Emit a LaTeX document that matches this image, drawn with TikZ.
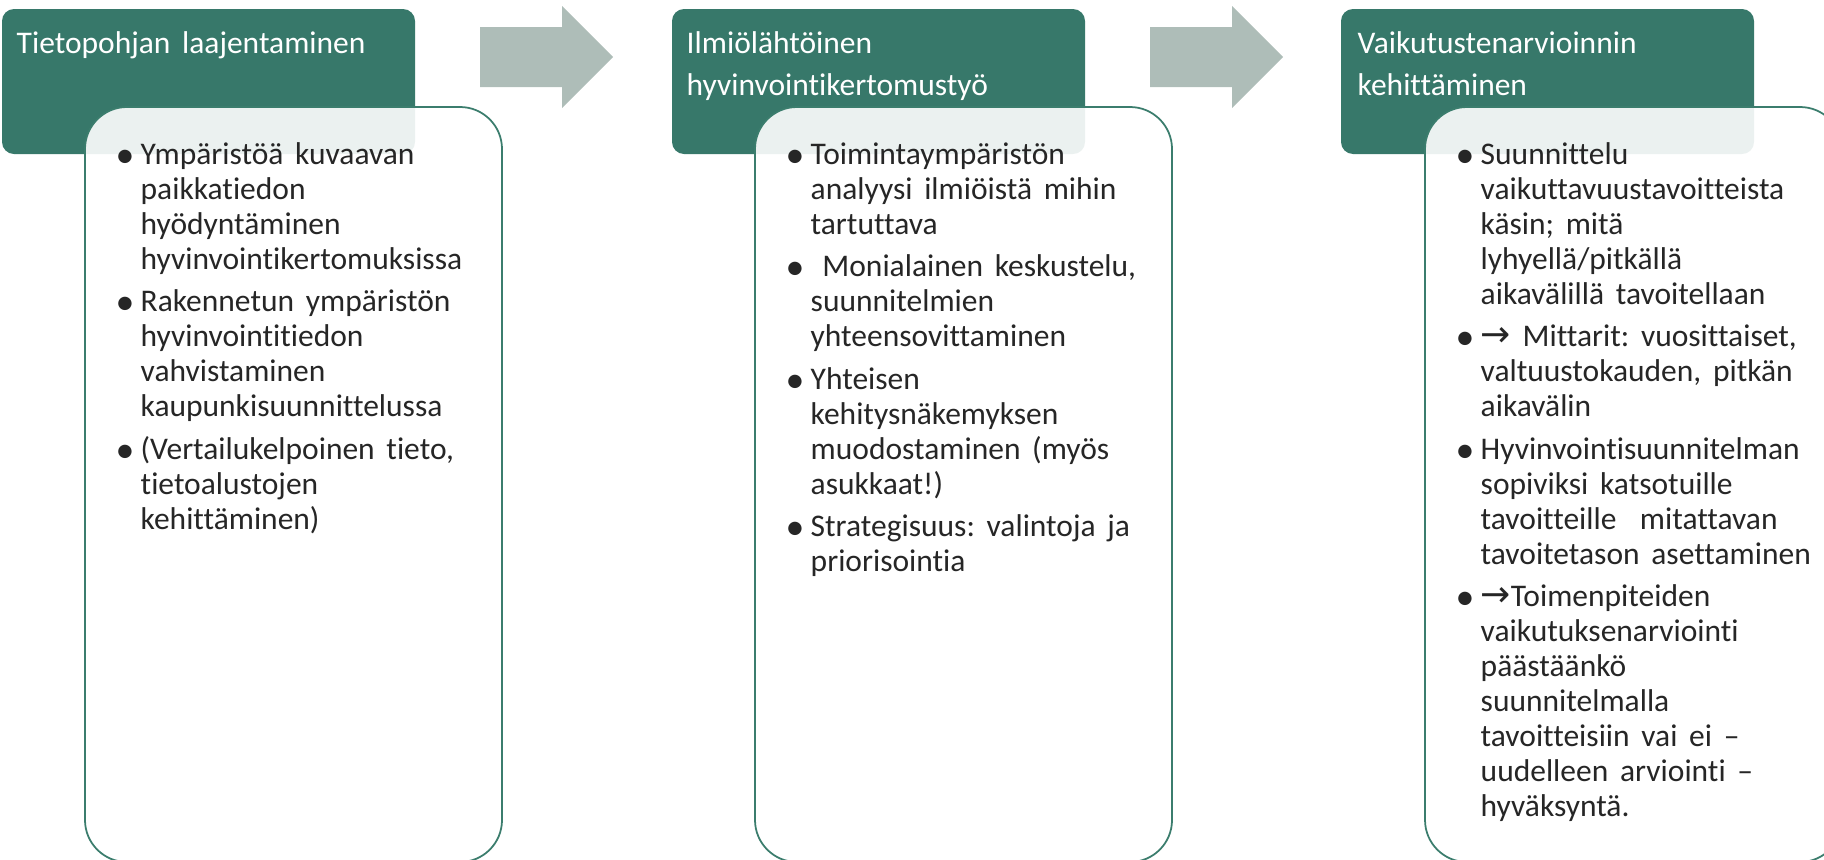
\documentclass[tikz,border=0pt]{standalone}
\usepackage{fontspec}
\setmainfont{Carlito}[Ligatures=NoCommon]
\newfontfamily\arrowfont{DejaVu Sans}

\definecolor{headgreen}{HTML}{37786A}
\definecolor{arrowgray}{HTML}{AEBDB8}
\definecolor{linegreen}{HTML}{3B7D6D}
\definecolor{bodytext}{HTML}{262626}

% one bullet point, hanging indent
\newcommand{\bitem}[1]{\hangindent=2.5mm\hangafter=1\noindent\makebox[2.5mm][l]{\raisebox{-0.3mm}{\scalebox{1.2}{\textbullet}}}#1\par}
\newcommand{\rarr}{{\arrowfont\fontsize{3.6mm}{3.5mm}\selectfont →}}
\newcommand{\headfont}{\fontsize{3.15mm}{3.7mm}\selectfont}
\newcommand{\bodyfont}{\fontsize{3.15mm}{3.5mm}\selectfont\frenchspacing\setlength{\parskip}{0.75mm}}

\begin{document}
\begin{tikzpicture}[x=0.1mm,y=-0.1mm,
  head box/.style={fill=headgreen,rounded corners=1.2mm},
  body box/.style={draw=linegreen,line width=0.5pt,fill=white,fill opacity=0.9,rounded corners=4.2mm},
  flow arrow/.style={fill=arrowgray},
  head text/.style={anchor=base west,inner sep=0pt,text=white,text width=39mm,align=left},
  body text/.style={anchor=base west,inner sep=0pt,text=bodytext,text width=40mm,align=left}]

  \useasboundingbox (0,0) rectangle (1824,859);

  % header boxes
  \foreach \x in {2,672,1341}
    \path[head box] (\x,9) rectangle ++(413,145);

  % arrows between the steps
  \foreach \x in {480,1150}
    \path[flow arrow] (\x,27) -- ++(82,0) -- ++(0,-21) -- ++(51,51)
      -- ++(-51,51) -- ++(0,-21) -- ++(-82,0) -- cycle;

  % content boxes
  \foreach \x in {85,755,1425}
    \draw[body box] (\x,107) rectangle ++(417,755);

  \node[head text] (h1) at (16,53) {\headfont Tietopohjan laajentaminen};
  \node[head text] (h2) at (686,53) {\headfont Ilmiölähtöinen\\hyvinvointikertomustyö};
  \node[head text] (h3) at (1357,53) {\headfont Vaikutustenarvioinnin\\kehittäminen};

  \node[body text] (b1) at (115,164) {\bodyfont%
    \bitem{Ympäristöä kuvaavan\newline paikkatiedon\newline hyödyntäminen\newline hyvinvointikertomuksissa}%
    \bitem{Rakennetun ympäristön\newline hyvinvointitiedon\newline vahvistaminen\newline kaupunkisuunnittelussa}%
    \bitem{(Vertailukelpoinen tieto,\newline tietoalustojen\newline kehittäminen)}};

  \node[body text] (b2) at (785,164) {\bodyfont%
    \bitem{Toimintaympäristön\newline analyysi ilmiöistä mihin\newline tartuttava}%
    \bitem{\ Monialainen keskustelu,\newline suunnitelmien\newline yhteensovittaminen}%
    \bitem{Yhteisen\newline kehitysnäkemyksen\newline muodostaminen (myös\newline asukkaat!)}%
    \bitem{Strategisuus: valintoja ja\newline priorisointia}};

  \node[body text] (b3) at (1455,164) {\bodyfont%
    \bitem{Suunnittelu\newline vaikuttavuustavoitteista\newline käsin; mitä\newline lyhyellä/pitkällä\newline aikavälillä tavoitellaan}%
    \bitem{\rarr\ Mittarit: vuosittaiset,\newline valtuustokauden, pitkän\newline aikavälin}%
    \bitem{Hyvinvointisuunnitelman\newline sopiviksi katsotuille\newline tavoitteille\ \ mitattavan\newline tavoitetason asettaminen}%
    \bitem{\rarr Toimenpiteiden\newline vaikutuksenarviointi\newline päästäänkö\newline suunnitelmalla\newline tavoitteisiin vai ei –\newline uudelleen arviointi –\newline hyväksyntä.}};
\end{tikzpicture}
\end{document}
